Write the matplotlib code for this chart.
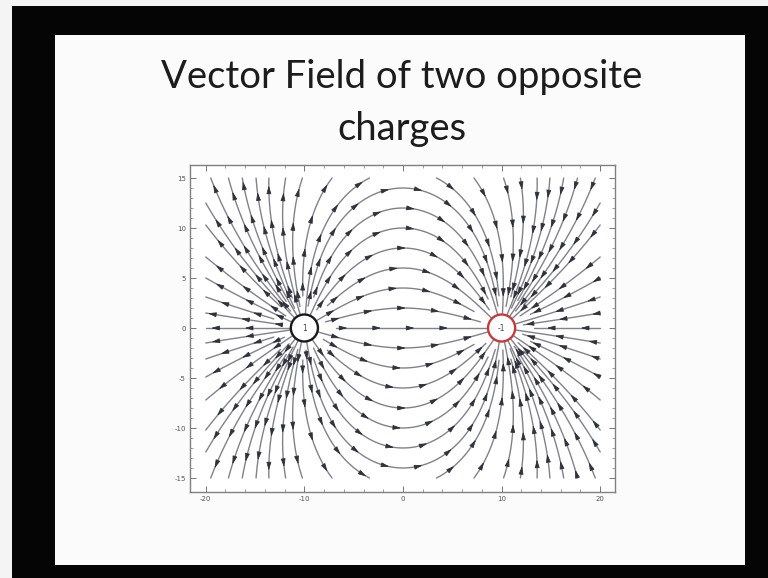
import numpy as np
import matplotlib
matplotlib.use("Agg")
import matplotlib.pyplot as plt
from matplotlib import patches

# point charges: position and charge
charge_x = [-10.0, 10.0]
charge_y = [0.0, 0.0]
charge_q = [1.0, -1.0]
charge_labels = ["1", "-1"]
charge_colors = ["#1a1a1a", "#c83a3a"]

# where the drawn field lines cross x = 0, the left edge and the top edge
mid_cross_y = [-14, -12, -10, -8, -6, -4, -2, 0, 2, 4, 6, 8, 10, 12, 14]
left_edge_y = [-12.4, -10.2, -7.2, -4.9, -3.1, -1.5, 0, 1.5, 3.1, 5.0, 7.1, 10.3, 12.5]
top_edge_x = [-19.5, -17.7, -16.3, -14.9, -13.6, -11.9, -10.2, -7.2, -3.4]

x_ticks = [-20, -10, 0, 10, 20]
y_ticks = [-15, -10, -5, 0, 5, 10, 15]
x_lim = (-21.6, 21.5)
y_lim = (-16.4, 16.3)
region = (-20, 20, -15, 15)

title_lines = ["Vector Field of two opposite", "charges"]

W, H = 768, 578
R_NEAR = 1.45
R_TRIM = [1.45, 3.2, 2.2]


def field(x, y):
    ex = ey = 0.0
    for cx, cy, q in zip(charge_x, charge_y, charge_q):
        dx, dy = x - cx, y - cy
        r3 = (dx * dx + dy * dy) ** 1.5 + 1e-12
        ex += q * dx / r3
        ey += q * dy / r3
    return ex, ey


def unit(x, y, sgn):
    ex, ey = field(x, y)
    n = np.hypot(ex, ey)
    return sgn * ex / n, sgn * ey / n


def near_charge(x, y):
    return min(np.hypot(x - cx, y - cy) for cx, cy in zip(charge_x, charge_y))


def trace(x, y, sgn, h=0.04, nmax=4000):
    pts = [(x, y)]
    for _ in range(nmax):
        k1 = unit(x, y, sgn)
        k2 = unit(x + h / 2 * k1[0], y + h / 2 * k1[1], sgn)
        k3 = unit(x + h / 2 * k2[0], y + h / 2 * k2[1], sgn)
        k4 = unit(x + h * k3[0], y + h * k3[1], sgn)
        x += h / 6 * (k1[0] + 2 * k2[0] + 2 * k3[0] + k4[0])
        y += h / 6 * (k1[1] + 2 * k2[1] + 2 * k3[1] + k4[1])
        if not (region[0] <= x <= region[1] and region[2] <= y <= region[3]):
            break
        pts.append((x, y))
        if near_charge(x, y) < R_NEAR:
            break
    return np.array(pts)


def full_line(x, y):
    back = trace(x, y, -1)
    fwd = trace(x, y, 1)
    return np.vstack([back[::-1], fwd[1:]])


seeds = [(0.0, y) for y in mid_cross_y]
seeds += [(region[0] + 1e-3, y) for y in left_edge_y]
seeds += [(region[1] - 1e-3, y) for y in left_edge_y]
for x in top_edge_x:
    for yy in (region[3] - 1e-3, region[2] + 1e-3):
        seeds += [(x, yy), (-x, yy)]

lines = [full_line(x, y) for x, y in seeds]

# thin out the lines where they crowd into each charge
for cx, cy in zip(charge_x, charge_y):
    ends = []
    for i, ln in enumerate(lines):
        for end in (0, -1):
            px, py = ln[end]
            if np.hypot(px - cx, py - cy) < R_NEAR + 0.1:
                ends.append((np.arctan2(py - cy, px - cx), i, end))
    ends.sort()
    for rank, (_, i, end) in enumerate(ends):
        r_cut = R_TRIM[rank % 3]
        ln = lines[i]
        dist = np.hypot(ln[:, 0] - cx, ln[:, 1] - cy)
        if end == 0:
            k = 0
            while k < len(ln) - 2 and dist[k] < r_cut:
                k += 1
            lines[i] = ln[k:]
        else:
            k = len(ln) - 1
            while k > 1 and dist[k] < r_cut:
                k -= 1
            lines[i] = ln[:k + 1]

fig = plt.figure(figsize=(W / 100, H / 100), dpi=100)
fig.patch.set_facecolor("#050505")

# slide page and the light strips at the image edge
fig.add_artist(patches.Rectangle((55 / W, 1 - 565 / H), 690 / W, 530 / H,
                                 transform=fig.transFigure, facecolor="#fbfbfc",
                                 edgecolor="none", zorder=-5))
fig.add_artist(patches.Rectangle((0, 0), 12 / W, 1, transform=fig.transFigure,
                                 facecolor="#f4f4f4", edgecolor="none", zorder=-5))
fig.add_artist(patches.Rectangle((0, 1 - 6 / H), 1, 6 / H, transform=fig.transFigure,
                                 facecolor="#f4f4f4", edgecolor="none", zorder=-5))

for i, line in enumerate(title_lines):
    fig.text(402 / W, 1 - (88 + 52 * i) / H, line, ha="center", va="baseline",
             fontsize=27.5, family="Lato", color="#1c1c1c")

ax = fig.add_axes([190 / W, 1 - 492 / H, 425 / W, 327 / H])
ax.set_facecolor("white")

step = 3.4
for ln in lines:
    ax.plot(ln[:, 0], ln[:, 1], color="#818189", lw=1.0, solid_capstyle="round", zorder=2)
    d = np.hypot(np.diff(ln[:, 0]), np.diff(ln[:, 1]))
    s = np.concatenate([[0], np.cumsum(d)])
    if s[-1] < 1.0:
        continue
    n = max(1, int((s[-1] - 1.0) // step) + 1)
    offs = (s[-1] - (n - 1) * step) / 2
    for k in range(n):
        t = offs + k * step
        j = int(np.clip(np.searchsorted(s, t), 1, len(ln) - 1))
        mx, my = ln[j]
        if near_charge(mx, my) < 2.6:
            continue
        ux, uy = unit(mx, my, 1)
        ax.add_patch(patches.FancyArrowPatch(
            (mx - 0.3 * ux, my - 0.3 * uy), (mx + 0.3 * ux, my + 0.3 * uy),
            arrowstyle="-|>,head_length=0.7,head_width=0.2", mutation_scale=7,
            shrinkA=0, shrinkB=0, color="#2f313d", lw=0.6, zorder=3))

for cx, cy, lab, col in zip(charge_x, charge_y, charge_labels, charge_colors):
    ax.add_patch(patches.Ellipse((cx, cy), 2.75, 2.7, facecolor=(1, 1, 1, 0.6),
                                 edgecolor=col, linewidth=1.7, zorder=4))
    ax.text(cx, cy, lab, ha="center", va="center", fontsize=5.5, color="#444444",
            zorder=5)

ax.set_xlim(*x_lim)
ax.set_ylim(*y_lim)
ax.set_xticks(x_ticks)
ax.set_yticks(y_ticks)
ax.set_xticks(np.arange(-20, 21, 2), minor=True)
ax.set_yticks(np.arange(-15, 16, 1), minor=True)
ax.set_xticklabels([str(v) for v in x_ticks])
ax.set_yticklabels([str(v) for v in y_ticks])
ax.tick_params(which="both", direction="in", top=True, right=True, color="#777777",
               labelsize=5, labelcolor="#555555", pad=3)
ax.tick_params(which="major", length=4, width=0.7)
ax.tick_params(which="minor", length=2, width=0.5)
for sp_ in ax.spines.values():
    sp_.set_color("#808080")
    sp_.set_linewidth(1.0)

fig.savefig("out.png", dpi=100, facecolor=fig.get_facecolor())
